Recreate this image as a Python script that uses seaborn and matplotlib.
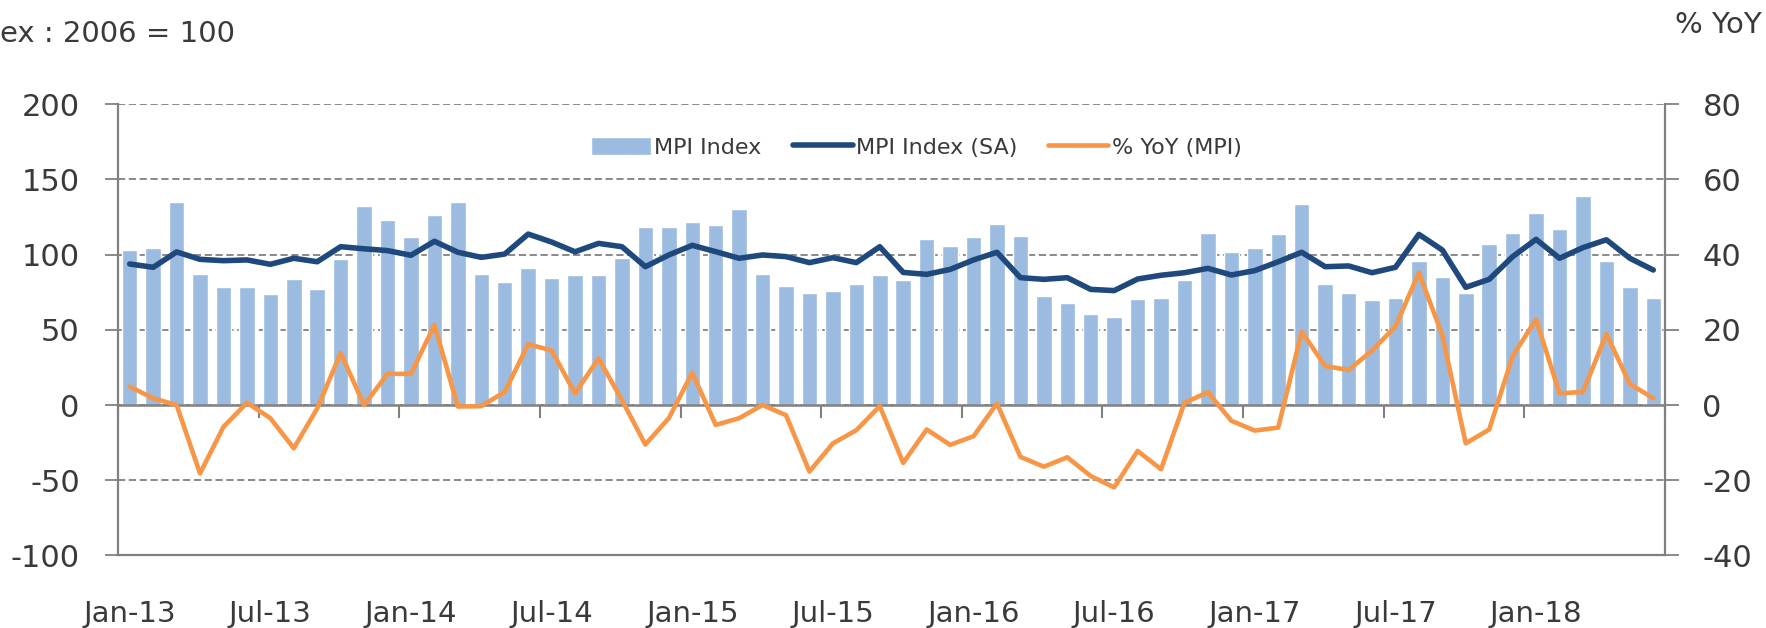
import numpy as np
import pandas as pd
import matplotlib
matplotlib.use("Agg")
import matplotlib.pyplot as plt
import seaborn as sns

# ---------------- data ----------------
months = list(pd.date_range("2013-01-01", periods=66, freq="MS").strftime("%b-%y"))

mpi_index = [103.1, 104.2, 135.3, 87.1, 78.7, 78.3, 73.6, 83.6, 77.2, 96.9, 132.2, 123.3,
             112.0, 126.2, 135.0, 87.1, 81.8, 90.9, 84.3, 86.5, 86.5, 97.6, 118.6, 118.6,
             121.5, 120.0, 130.2, 87.1, 79.2, 74.7, 75.6, 80.3, 86.5, 82.9, 110.6, 106.0,
             111.8, 120.6, 112.2, 72.5, 68.1, 60.5, 58.8, 70.3, 71.4, 83.4, 114.4, 101.8,
             104.2, 113.5, 133.9, 80.3, 74.7, 69.8, 71.4, 95.6, 85.1, 74.7, 106.9, 114.4,
             127.9, 116.9, 139.2, 95.8, 78.5, 71.0]

mpi_sa = [93.8, 91.6, 101.8, 96.9, 96.0, 96.5, 93.6, 97.6, 95.3, 105.3, 103.9, 102.7,
          99.6, 108.9, 101.6, 98.2, 100.4, 113.7, 108.4, 101.9, 107.5, 105.3, 92.0, 99.8,
          106.2, 102.0, 97.6, 99.8, 98.7, 94.7, 98.0, 94.7, 105.3, 88.2, 86.9, 90.2,
          96.5, 101.6, 84.7, 83.6, 84.7, 76.9, 76.1, 83.8, 86.3, 88.0, 90.9, 86.5,
          89.4, 95.3, 101.6, 92.0, 92.5, 88.0, 91.6, 113.5, 103.1, 78.3, 83.6, 98.7,
          110.2, 97.6, 104.7, 109.9, 97.6, 89.8]

yoy = [4.9, 1.8, 0.0, -18.2, -5.8, 0.6, -3.5, -11.5, -0.9, 13.8, 0.0, 8.3,
       8.3, 21.3, -0.4, -0.3, 3.5, 16.2, 14.5, 3.1, 12.4, 1.3, -10.5, -3.5,
       8.6, -5.3, -3.5, 0.0, -2.7, -17.7, -10.2, -6.7, -0.3, -15.4, -6.5, -10.6,
       -8.3, 0.4, -13.8, -16.4, -13.9, -18.9, -21.9, -12.2, -17.1, 0.6, 3.4, -4.2,
       -6.8, -6.0, 19.5, 10.4, 9.3, 14.5, 20.9, 35.2, 18.6, -10.2, -6.5, 13.0,
       22.8, 3.1, 3.5, 18.9, 5.6, 1.8]

left_ticks = [-100, -50, 0, 50, 100, 150, 200]
right_ticks = [-40, -20, 0, 20, 40, 60, 80]

# ---------------- style ----------------
sns.set_style("white")
plt.rcParams["font.family"] = ["DejaVu Sans"]
plt.rcParams["axes.unicode_minus"] = False
TXT = "#3a3a3a"
GRID = "#808080"
BAR = "#9bbbe0"
NAVY = "#1f497d"
ORANGE = "#f79646"

df = pd.DataFrame({"month": months, "mpi": mpi_index, "sa": mpi_sa, "yoy": yoy})
df["pos"] = np.arange(len(df))

fig = plt.figure(figsize=(17.66, 6.28), dpi=100)
W, H = 1766, 628
x0, x1, ytop, ybot = 118, 1665, 104.3, 555.4
ax = fig.add_axes([x0 / W, 1 - ybot / H, (x1 - x0) / W, (ybot - ytop) / H])

sns.barplot(data=df, x="month", y="mpi", order=months, color=BAR, saturation=1,
            width=0.66, ax=ax, label="MPI Index", zorder=2)
sns.lineplot(data=df, x="pos", y="sa", color=NAVY, lw=4.0, ax=ax,
             label="MPI Index (SA)", zorder=3, solid_joinstyle="round",
             solid_capstyle="round")

ax.set_xlim(-0.5, len(months) - 0.5)
ax.set_ylim(-100, 200)
ax.set_yticks(left_ticks)
ax.set_xticks(np.arange(0, len(months), 6))
ax.set_xticklabels([months[i] for i in range(0, len(months), 6)])
ax.set_xlabel("")
ax.set_ylabel("")
ax.set_axisbelow(True)
ax.yaxis.grid(True, color=GRID, linestyle=(0, (4, 2)), lw=1.3)
ax.xaxis.grid(False)
ax.axhline(0, color=GRID, lw=1.8, zorder=2.5)
ax.tick_params(axis="x", length=0, pad=32, labelsize=21, labelcolor=TXT)
ax.tick_params(axis="y", length=9.5, width=1.3, color=GRID, pad=18,
               labelsize=22, labelcolor=TXT, direction="out")
for s in ["left", "bottom"]:
    ax.spines[s].set_color(GRID)
    ax.spines[s].set_linewidth(1.6)
ax.spines["top"].set_visible(False)
ax.spines["right"].set_visible(False)
if ax.get_legend():
    ax.get_legend().remove()

# category axis tick marks on the zero line
sec = ax.secondary_xaxis((0 - (-100)) / 300)
sec.set_xticks(np.arange(-0.5, len(months), 6))
sec.tick_params(axis="x", length=9.5, width=1.5, color=GRID, labelbottom=False,
                direction="out")
sec.spines["bottom"].set_visible(False)

ax2 = ax.twinx()
sns.lineplot(data=df, x="pos", y="yoy", color=ORANGE, lw=3.3, ax=ax2,
             label="% YoY (MPI)", zorder=4, solid_joinstyle="round")
ax2.set_ylim(-40, 80)
ax2.set_yticks(right_ticks)
ax2.set_ylabel("")
ax2.tick_params(axis="y", length=10, width=1.3, color=GRID, pad=17,
                labelsize=22, labelcolor=TXT, direction="out")
for s in ["left", "top", "bottom"]:
    ax2.spines[s].set_visible(False)
ax2.spines["right"].set_color(GRID)
ax2.spines["right"].set_linewidth(1.6)
if ax2.get_legend():
    ax2.get_legend().remove()

h1, l1 = ax.get_legend_handles_labels()
h2, l2 = ax2.get_legend_handles_labels()
hmap = dict(zip(l1 + l2, h1 + h2))
order = ["MPI Index", "MPI Index (SA)", "% YoY (MPI)"]
ax2.legend([hmap[k] for k in order], order, loc="center", bbox_to_anchor=(0.516, 0.905),
           ncol=3, frameon=False, fontsize=16, handlelength=2.7, handleheight=0.9,
           handletextpad=0.15, columnspacing=1.4, labelcolor=TXT)

fig.text(0, 1 - 34 / H, "ex : 2006 = 100", fontsize=21, color=TXT, ha="left", va="center")
fig.text(1762 / W, 1 - 25 / H, "% YoY", fontsize=21, color=TXT, ha="right", va="center")

fig.savefig("out.png", dpi=100)
